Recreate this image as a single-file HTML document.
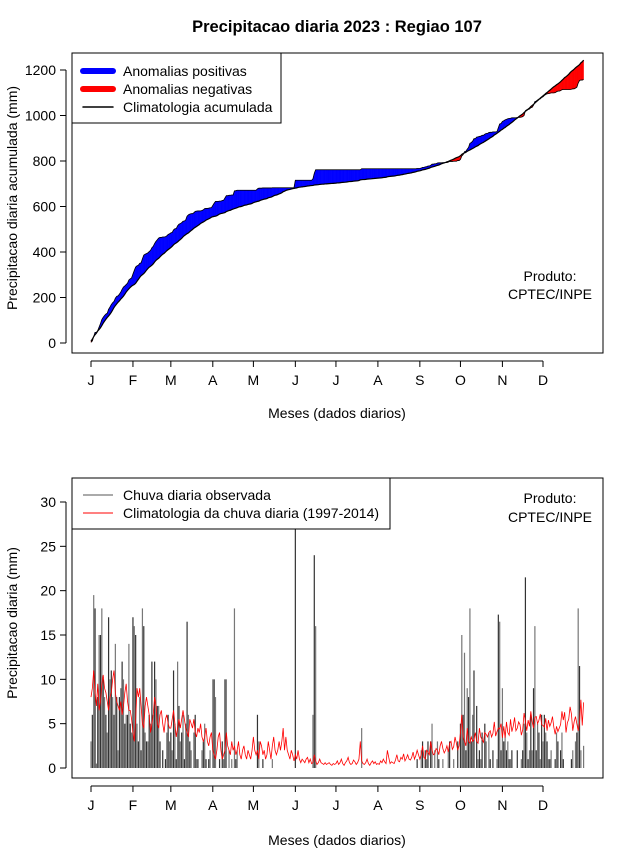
<!DOCTYPE html>
<html><head><meta charset="utf-8">
<style>
body{margin:0;background:#fff;}
svg{display:block;font-family:"Liberation Sans",sans-serif;}
</style></head>
<body>
<svg id="c" width="640" height="850" xmlns="http://www.w3.org/2000/svg">
<rect width="640" height="850" fill="#fff"/>
<text x="337" y="32" font-size="16.5" font-weight="bold" text-anchor="middle">Precipitacao diaria 2023 : Regiao 107</text>
<g id="top"></g>
<g id="bot"></g>
</svg>
<script>
const monthLabels = ["J","F","M","A","M","J","J","A","S","O","N","D"];
const monthStartDays = [0,31,59,90,120,151,181,212,243,273,304,334];
const topTicks = [0,200,400,600,800,1000,1200];
const botTicks = [0,5,10,15,20,25,30];
const observed = [
3,6,19.5,18,0.5,8,15,15,18,10,8,6,4,17,10,11,8,6,14,8,2,8,9,12,10,5,6,6,14,5,4,
17,16,15,5,3,8,2,18,16,4,3,3,6,5,12,6,12,10,7,7,3,0,2,0,1,4,6,3,
4,2,11,5,1,12,7,3,4,6,1,5,16.5,6,3,2,0,4,6,1,1,0,0,2,3,5,1,0,1,2,0,
10,10,8,0,0,1,0,3,1,10,10,0,2,0,1,0,18,1,2,0,0,0,0,0,0,0,0,0,0,0,
0,0,0,6,3,0,0,1,0,0,0,0,0,0,1,0,0,0,0,0,0,0,0,0,0,0,0,0,0,0,0,
33,0,0,0,0,0,0,0,0,0,0,0,0,6,24,16,0,0,0,0,0,0,0,0,0,0,0,0,0,0,
0,0,0,0,0,0,0,0,0,0,0,0,0,0,0,0,0,0,0,4.5,0,0,0,0,0,0,0,0,0,0,0,
0,0,0,0,0,0,0,0,0,0,0,0,0,0,0,0,0,0,0,0,0,0,0,0,0,0,0,0,0,1,0,
0,2,3,0,2,1,3,0,3,5,0,2,0,3,1,0,0,1,0,0,0,2,3,0,0,1,0,0,3,0,
5,15,6,13,2,9,8,18,3,6,11,0,7,1,2,1,4,0,5,3,0,4,1,0,2,0,0,1,17.3,16.5,2,
9,3,4,2,3,1,1,2,0,0,0,2,0,0,1,2,5,21.5,4,1,2,6,2,9,16,2,5,4,1,6,
3,6,4,3,1,1,2,0,0,1,4,3,0,2,4,1,0,0,0,0,0,1,2,0,3,4,18,11.5,2,0,2.5
];
const climatology = [
8,9,11,8.5,7,9.5,6.5,7.5,9.5,10.5,9,8.5,7.5,6.5,8,8.5,10,11,8.5,7.5,7,6.5,7.5,6,7,8.5,9.5,7.5,6.5,6.5,5.5,
4,3,5.5,9,8,9,7,5,4.5,7,8,7,6,4,5,6,8,7,5,4.5,6,6.5,5,4,5.5,6,5,4.5,
4.5,5.5,6.5,5,3.5,4.5,5.5,4.5,5.5,6.5,5.5,4.5,4,3.5,5.5,5,4.5,5.5,4,3.5,4.5,4,5,3.5,3,3.5,4.5,3,2.5,3.5,4,
2,1.5,1,2,3.5,4,2,1,1.5,2,4,2.5,2,1.5,3,2,2.5,1.5,2,3,1.5,1,2,2.5,1.5,1,2,1.5,1,2,
3.5,2,1.5,2,1,3,2.5,1.5,2,1,1.5,3,2,1,2.5,3.5,2,1.5,2,3,2,3,4.5,2,3.5,2,1.5,1,2,1.5,0.8,
1.5,1,2,1,0.6,1,0.8,0.6,1,1.2,0.6,1,0.5,0.6,1.5,0.8,0.4,0.6,1,0.6,0.5,0.4,0.6,0.4,0.5,0.6,0.4,0.3,0.5,0.4,
0.5,0.8,0.4,0.6,1,0.5,0.3,0.6,0.8,1.2,0.6,0.4,0.5,0.9,0.7,0.4,0.6,1,3,0.8,0.5,0.4,0.6,1,0.5,0.3,0.6,0.8,0.5,0.7,0.4,
0.5,0.4,0.8,0.6,1,0.7,0.5,2,1.2,0.5,0.7,0.6,0.5,0.9,1.5,0.8,0.7,1.2,1,1.6,0.8,1.1,1.5,1,0.9,1.2,1.8,1,1.4,2,1.5,
1,1.5,2.5,1.2,1,2,1.8,1.5,3,2,1.5,1.6,2.2,2,1.5,2.5,3,2.2,1.7,2,2.5,1.8,2.8,3,2.1,2.4,3.5,2.8,2,2.5,
4,6,3.5,3,2.5,4.5,3,2.8,3.5,3,3.2,4,3,2.8,4.5,3.5,3.2,2.9,4,3.8,3.5,4,4.2,3.5,3.9,5.2,3.6,4.1,4.5,4.4,5,
3.4,4.7,3.4,5.2,4,3.7,5.5,4.1,4.7,5.7,4.2,4.5,5.2,4.9,3.7,4.3,6.2,5.3,4.2,5.4,4.7,6.4,5.2,4.5,5.7,5.8,5,5.4,6.1,4.9,
4.8,4.6,5.6,4.2,5.4,4.7,5.1,5.8,4.6,3.8,4.7,4.1,4.5,4.9,6.4,5.4,6.3,4,5.1,5.5,6.9,6.1,4.2,5.2,5.8,5,4.2,5.1,7.7,4.8,7.4
];

const NS="http://www.w3.org/2000/svg";
function mk(parent,tag,attrs){const e=document.createElementNS(NS,tag);for(const k in attrs)e.setAttribute(k,attrs[k]);parent.appendChild(e);return e;}
const xDay = d => 91 + d*1.3533;
const yTop = v => 343 - v*0.2275;
const yBot = v => 768 - v*8.867;

function frame(g, top, bottom, ticks, yf, ylabel, ylabelY, axisY, titleOff){
  const r=mk(g,'rect',{x:72,y:top,width:531,height:bottom-top,fill:'none',stroke:'#000','stroke-width':1});
  
  
  mk(g,'line',{x1:66,x2:66,y1:yf(ticks[0]),y2:yf(ticks[ticks.length-1]),stroke:'#000'});
  ticks.forEach(t=>{
    mk(g,'line',{x1:60,x2:66,y1:yf(t),y2:yf(t),stroke:'#000'});
    const tx=mk(g,'text',{x:56,y:yf(t)+5,'font-size':14,'text-anchor':'end'});
    tx.textContent=t;
    
    
  });
  const yl=mk(g,'text',{x:0,y:0,'font-size':14,'text-anchor':'middle',transform:`translate(17,${ylabelY}) rotate(-90)`});
  yl.textContent=ylabel;
  
  
  mk(g,'line',{x1:xDay(0),x2:xDay(334),y1:axisY,y2:axisY,stroke:'#000'});
  monthLabels.forEach((m,i)=>{
    const x=xDay(monthStartDays[i]);
    mk(g,'line',{x1:x,x2:x,y1:axisY,y2:axisY+6,stroke:'#000'});
    const tx=mk(g,'text',{x:x,y:axisY+24,'font-size':14,'text-anchor':'middle'});
    tx.textContent=m;
    
    
  });
  const xl=mk(g,'text',{x:337,y:axisY+titleOff,'font-size':14,'text-anchor':'middle'});
  xl.textContent='Meses (dados diarios)';
  
  
}

// TOP
const gt=document.getElementById('top');
const cumO=[],cumC=[];let so=0,sc=0;
for(let i=0;i<observed.length;i++){so+=observed[i];sc+=climatology[i];cumO.push(so);cumC.push(sc);}
for(let i=0;i<cumO.length-1;i++){
  const pos=(cumO[i]+cumO[i+1])>=(cumC[i]+cumC[i+1]);
  const p=mk(gt,'polygon',{points:`${xDay(i)},${yTop(cumO[i])} ${xDay(i+1)},${yTop(cumO[i+1])} ${xDay(i+1)},${yTop(cumC[i+1])} ${xDay(i)},${yTop(cumC[i])}`,fill:pos?'#0000ff':'#ff0000',stroke:pos?'#0000ff':'#ff0000','stroke-width':0.4});
  
  
}
const lo=mk(gt,'polyline',{points:cumO.map((v,i)=>`${xDay(i)},${yTop(v)}`).join(' '),fill:'none',stroke:'#000','stroke-width':0.8});


const lc=mk(gt,'polyline',{points:cumC.map((v,i)=>`${xDay(i)},${yTop(v)}`).join(' '),fill:'none',stroke:'#000','stroke-width':1.2});


frame(gt,53,353,topTicks,yTop,'Precipitacao diaria acumulada (mm)',198,361,57);
const lg=mk(gt,'g',{});


mk(lg,'rect',{x:72,y:53,width:209,height:70,fill:'#fff',stroke:'#000'});
[['#0000ff',6,'Anomalias positivas'],['#ff0000',6,'Anomalias negativas'],['#000',1.5,'Climatologia acumulada']].forEach((e,i)=>{
  const y=71+i*18;
  mk(lg,'line',{x1:83,x2:113,y1:y,y2:y,stroke:e[0],'stroke-width':e[1],'stroke-linecap':'round'});
  const t=mk(lg,'text',{x:123,y:y+5,'font-size':14});t.textContent=e[2];
  
  
});
[['Produto:',281],['CPTEC/INPE',299]].forEach(a=>{const t=mk(gt,'text',{x:550,y:a[1],'font-size':14,'text-anchor':'middle'});t.textContent=a[0];
  
  });

// BOTTOM
const gb=document.getElementById('bot');
const cp=mk(gb,'clipPath',{id:'cp'});
mk(cp,'rect',{x:72,y:478,width:531,height:300});
const bars=mk(gb,'g',{'clip-path':'url(#cp)'});
observed.forEach((v,i)=>{
  if(v<=0)return;
  const b=mk(bars,'rect',{x:xDay(i)-0.6,y:yBot(v),width:1.2,height:yBot(0)-yBot(v),fill:i%2?'#333':'#777'});
  
  
});
const cl=mk(gb,'polyline',{points:climatology.map((v,i)=>`${xDay(i)},${yBot(v)}`).join(' '),fill:'none',stroke:'#ff0000','stroke-width':0.8});


frame(gb,478,778,botTicks,yBot,'Precipitacao diaria (mm)',623,786,59);
const lg2=mk(gb,'g',{});


mk(lg2,'rect',{x:72,y:478,width:318,height:51,fill:'#fff',stroke:'#000'});
[['#555','Chuva diaria observada'],['#ff0000','Climatologia da chuva diaria (1997-2014)']].forEach((e,i)=>{
  const y=495+i*18;
  mk(lg2,'line',{x1:83,x2:113,y1:y,y2:y,stroke:e[0],'stroke-width':1});
  const t=mk(lg2,'text',{x:123,y:y+5,'font-size':14});t.textContent=e[1];
  
  
});
[['Produto:',503],['CPTEC/INPE',522]].forEach(a=>{const t=mk(gb,'text',{x:550,y:a[1],'font-size':14,'text-anchor':'middle'});t.textContent=a[0];
  
  });
</script>
</body></html>
